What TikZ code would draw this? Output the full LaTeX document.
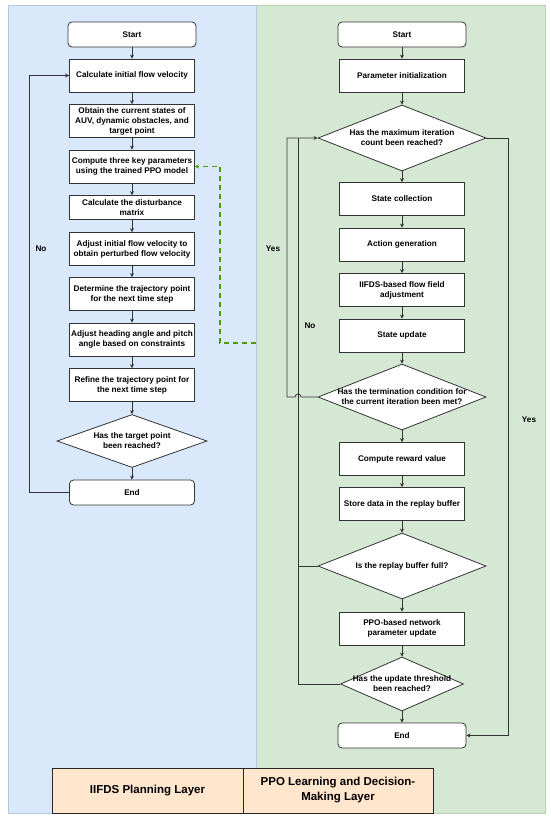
\documentclass[tikz,border=0pt]{standalone}
\usepackage{fontspec}
\setmainfont{Liberation Sans}
\usetikzlibrary{shapes.geometric,arrows.meta}
\definecolor{paneblue}{HTML}{DAE8FC}
\definecolor{paneblueline}{HTML}{B4C8E4}
\definecolor{panegreen}{HTML}{D5E8D4}
\definecolor{panegreenline}{HTML}{B5D3AD}
\definecolor{layerfill}{HTML}{FFE6CC}
\definecolor{dashgreen}{HTML}{4D9900}
\begin{document}
\begin{tikzpicture}[x=1pt, y=-1pt,
	every node/.style={font=\bfseries\fontsize{8.2}{10}\selectfont, align=center},
	proc/.style={draw=black!80, fill=white, line width=.8pt, minimum width=125, minimum height=33, inner xsep=0pt, inner ysep=1pt},
	term/.style={draw=black!80, fill=white, line width=.8pt, rounded corners=4pt, minimum width=128, minimum height=25},
	dec/.style={draw=black!80, fill=white, line width=.8pt, diamond, inner sep=0pt, minimum width=168, minimum height=66},
	layer/.style={draw=black!85, fill=layerfill, line width=1pt, minimum height=45, font=\bfseries\fontsize{11.5}{15}\selectfont},
	lnk/.style={draw=black!80, line width=.8pt},
	arr/.style={-{Stealth[length=4pt,width=4pt]}},
	greendash/.style={draw=dashgreen, line width=1.4pt, dash pattern=on 5pt off 4pt}]
	\useasboundingbox (0,0) rectangle (550,819);
	% panels
	\filldraw[fill=panegreen, draw=panegreenline] (256,5) rectangle (545,813);
	\filldraw[fill=paneblue, draw=paneblueline] (8,5) rectangle (256,813);

	% IIFDS planning layer
	\node[term] (Lstart) at (132,34.5)  {Start};
	\node[proc] (L1)     at (132,75.5)  {Calculate initial flow velocity};
	\node[proc] (L2)     at (132,121)   {Obtain the current states of\\AUV, dynamic obstacles, and\\target point};
	\node[proc] (L3)     at (132,166.5) {Compute three key parameters\\using the trained PPO model};
	\node[proc, minimum height=24] (L4) at (132,207.5) {Calculate the disturbance\\matrix};
	\node[proc] (L5)     at (132,249)   {Adjust initial flow velocity to\\obtain perturbed flow velocity};
	\node[proc] (L6)     at (132,294)   {Determine the trajectory point\\for the next time step};
	\node[proc] (L7)     at (132,339.5) {Adjust heading angle and pitch\\angle based on constraints};
	\node[proc] (L8)     at (132,385)   {Refine the trajectory point for\\the next time step};
	\node[dec, minimum width=150, minimum height=53, label={center:Has the target point\\been reached?}] (Ld) at (132,441) {};
	\node[term, minimum width=125] (Lend) at (132,492.5) {End};

	% PPO learning layer
	\node[term] (Rstart) at (402,34.5)  {Start};
	\node[proc] (R1)     at (402,75.5)  {Parameter initialization};
	\node[dec, label={center:Has the maximum iteration\\count been reached?}] (d1) at (402,138) {};
	\node[proc] (R2)     at (402,199)   {State collection};
	\node[proc] (R3)     at (402,244.5) {Action generation};
	\node[proc] (R4)     at (402,290)   {IIFDS-based flow field\\adjustment};
	\node[proc] (R5)     at (402,335.5) {State update};
	\node[dec, label={center:Has the termination condition for\\the current iteration been met?}] (d2) at (402,397) {};
	\node[proc] (R6)     at (402,459)   {Compute reward value};
	\node[proc] (R7)     at (402,504)   {Store data in the replay buffer};
	\node[dec, label={center:Is the replay buffer full?}] (d3) at (402,566) {};
	\node[proc] (R8)     at (402,628.5) {PPO-based network\\parameter update};
	\node[dec, minimum width=123, minimum height=54, label={center:Has the update threshold\\been reached?}] (d4) at (402,684) {};
	\node[term] (Rend)   at (402,735.5) {End};

	% straight flow
	\foreach \a/\b in {Lstart/L1, L1/L2, L2/L3, L3/L4, L4/L5, L5/L6, L6/L7, L7/L8, L8/Ld, Ld/Lend,
		Rstart/R1, R1/d1, d1/R2, R2/R3, R3/R4, R4/R5, R5/d2, d2/R6, R6/R7, R7/d3, d3/R8, R8/d4, d4/Rend}
		\draw[lnk, arr] (\a.south) -- (\b.north);

	% loops
	\draw[lnk, arr] (Lend.west) -- (29,492.5) |- (L1.west);
	\draw[lnk, arr] (d2.west) -- (301,397) arc[start angle=0, end angle=-180, radius=3] -- (287,397) |- (d1.west);
	\draw[lnk] (d4.west) -| (298,138);
	\draw[lnk] (d3.west) -- (298,566);
	\draw[lnk, arr] (d1.east) -- (508,138) |- (Rend.east);
	\coordinate (gs) at (256,343);
	\draw[greendash, arr] (gs) -- (220,343) |- (L3.east);

	\node (lno)  at (41,249)  {No};
	\node (ryes) at (273,249) {Yes};
	\node (rno)  at (310,326) {No};
	\node (yes)  at (529,420) {Yes};

	% layer names
	\node[layer, minimum width=191] (lay1) at (147.5,790.5) {IIFDS Planning Layer};
	\node[layer, minimum width=190] (lay2) at (338,790.5) {PPO Learning and Decision-\\Making Layer};
\end{tikzpicture}
\end{document}
